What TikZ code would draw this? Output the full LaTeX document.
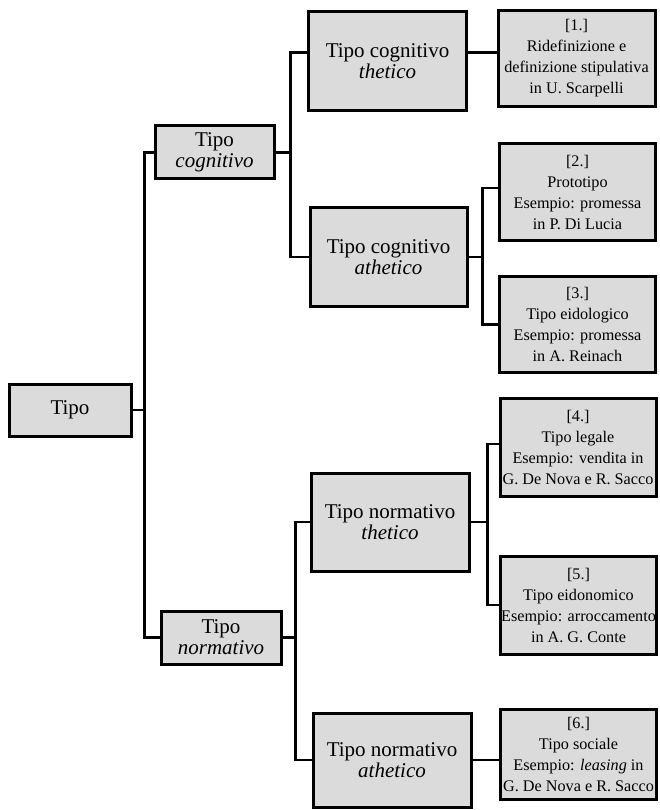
\documentclass[tikz,border=0pt]{standalone}
\usepackage{fontspec}
\setmainfont{Liberation Serif}
\begin{document}
\begin{tikzpicture}[x=1pt,y=-1pt,
		box/.style={draw,line width=3pt,fill=gray!28,align=center,inner sep=0pt},
		big/.style={box,font=\fontsize{21}{21}\selectfont},
		small/.style={box,font=\fontsize{16.2}{21}\selectfont,minimum width=156pt,minimum height=96pt},
		link/.style={line width=2.4pt}]
			\useasboundingbox (0,0) rectangle (659,810);
			\node[big,minimum width=122pt,minimum height=52pt] (tipo) at (70,410) {Tipo};
			\node[big,minimum width=119pt,minimum height=53pt] (cog) at (214.5,152.5) {Tipo\\\textit{cognitivo}};
			\node[big,minimum width=120pt,minimum height=53pt] (norm) at (221,637.5) {Tipo\\\textit{normativo}};
			\node[big,minimum width=158pt,minimum height=99pt] (ct) at (387.5,61) {Tipo cognitivo\\\textit{thetico}};
			\node[big,minimum width=157pt,minimum height=98pt] (ca) at (388.5,257) {Tipo cognitivo\\\textit{athetico}};
			\node[big,minimum width=158pt,minimum height=98pt] (nt) at (390,522) {Tipo normativo\\\textit{thetico}};
			\node[big,minimum width=158pt,minimum height=94pt] (na) at (392,760) {Tipo normativo\\\textit{athetico}};
			\node[small,minimum width=157pt] (r1) at (576.5,58.5) {[1.]\\Ridefinizione e\\definizione stipulativa\\in U. Scarpelli};
			\node[small] (r2) at (577.5,192) {[2.]\\Prototipo\\Esempio: promessa\\in P. Di Lucia};
			\node[small] (r3) at (577.5,324.5) {[3.]\\Tipo eidologico\\Esempio: promessa\\in A. Reinach};
			\node[small,minimum height=98pt] (r4) at (578,447) {[4.]\\Tipo legale\\Esempio: vendita in\\G. De Nova e R. Sacco};
			\node[small,minimum height=98pt] (r5) at (578.5,605) {[5.]\\Tipo eidonomico\\Esempio: arroccamento\\in A. G. Conte};
			\node[small,minimum height=90pt] (r6) at (578.5,754) {[6.]\\Tipo sociale\\Esempio: \textit{leasing} in\\G. De Nova e R. Sacco};
			\draw[link] (tipo.east) -- ++(12,0) coordinate (j0) |- (cog.west);
			\draw[link] (j0) |- (norm.west);
			\draw[link] (cog.east) -- ++(15,0) coordinate (j1) |- (ct.174);
			\draw[link] (j1) |- (ca.west);
			\draw[link] (norm.east) -- ++(13,0) coordinate (j2) |- (nt.west);
			\draw[link] (j2) |- (na.west);
			\draw[link] (ct.6) -- (ct.6 -| r1.west);
			\draw[link] (ca.east) -- ++(14,0) coordinate (j3) |- (r2.177);
			\draw[link] (j3) |- (r3.west);
			\draw[link] (nt.east) -- ++(17,0) coordinate (j4) |- (r4.178);
			\draw[link] (j4) |- (r5.west);
			\draw[link] (na.east) -- (na.east -| r6.west);
		\end{tikzpicture}
\end{document}
